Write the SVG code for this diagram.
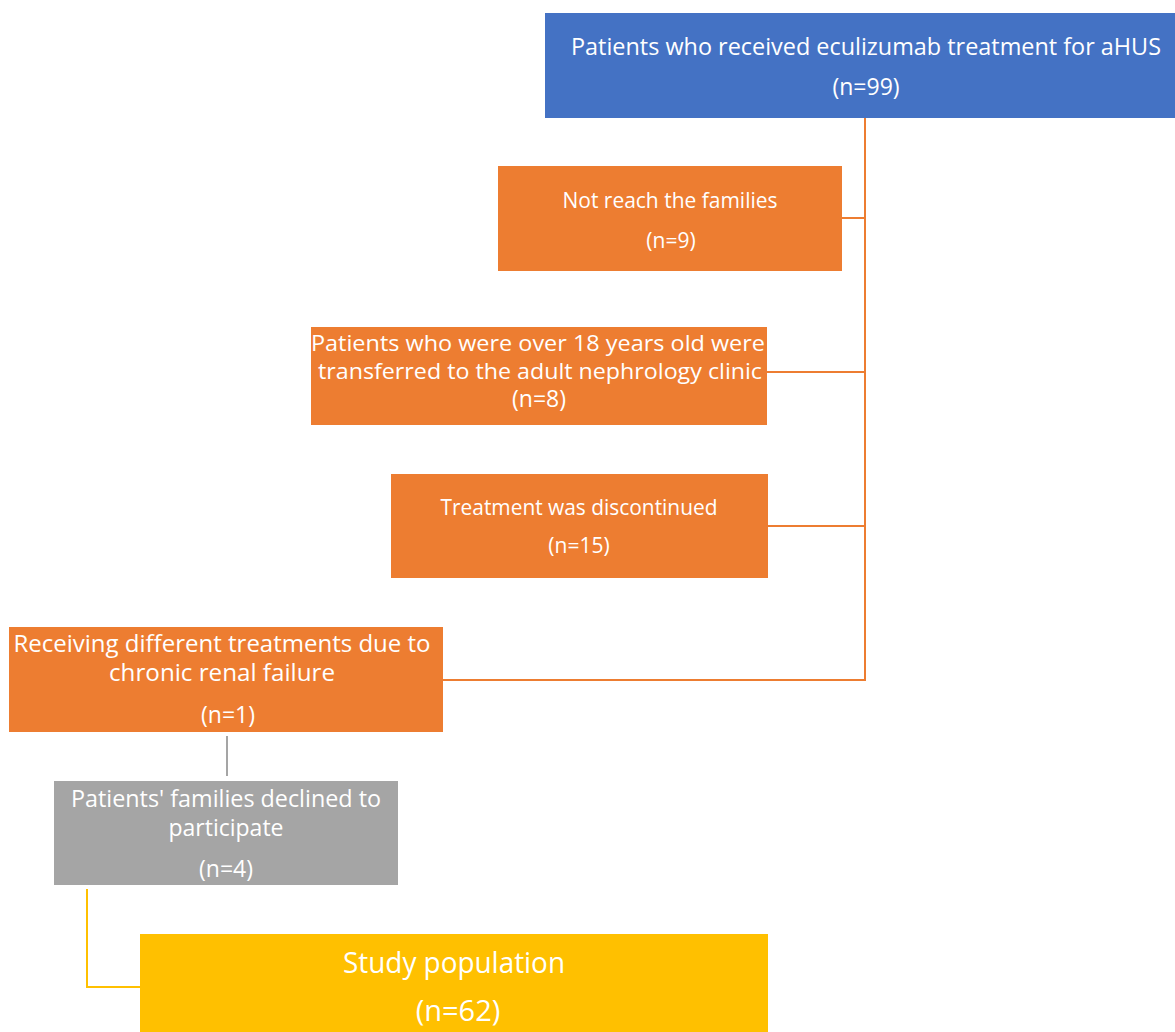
<svg xmlns="http://www.w3.org/2000/svg" width="1175" height="1032" viewBox="0 0 1175 1032">
<style>
text{font-family:"Open Sans","Liberation Sans",sans-serif;fill:#fff;text-anchor:middle}
.o{fill:#ED7D31}
.s{font-size:21px}
.m{font-size:23px}
.t{font-size:21px}
.l{font-size:29px}
.c{fill:none;stroke-width:2}
</style>
<rect width="1175" height="1032" fill="#fff"/>
<g id="connectors">
<path class="c" stroke="#ED7D31" d="M865 118V680H443M842 218H865M767 372H865M768 526H865"/>
<path class="c" stroke="#A5A5A5" d="M227 736V776"/>
<path class="c" stroke="#FFC000" d="M87 889V987H140"/>
</g>
<g id="n0">
<rect x="545" y="13" width="632" height="105" fill="#4472C4"/>
<text class="m" x="866" y="55" textLength="590" lengthAdjust="spacingAndGlyphs">Patients who received eculizumab treatment for aHUS</text>
<text class="m" x="866" y="95">(n=99)</text>
</g>
<g id="n1">
<rect class="o" x="498" y="166" width="344" height="105"/>
<text class="s" x="670" y="208" textLength="215" lengthAdjust="spacingAndGlyphs">Not reach the families</text>
<text class="s" x="671" y="248">(n=9)</text>
</g>
<g id="n2">
<rect class="o" x="311" y="327" width="456" height="98"/>
<text class="t" x="538" y="351" textLength="454" lengthAdjust="spacingAndGlyphs">Patients who were over 18 years old were</text>
<text class="t" x="540" y="379" textLength="444" lengthAdjust="spacingAndGlyphs">transferred to the adult nephrology clinic</text>
<text class="m" x="539" y="407">(n=8)</text>
</g>
<g id="n3">
<rect class="o" x="391" y="474" width="377" height="104"/>
<text class="s" x="579" y="515" textLength="277" lengthAdjust="spacingAndGlyphs">Treatment was discontinued</text>
<text class="s" x="579" y="553">(n=15)</text>
</g>
<g id="n4">
<rect class="o" x="9" y="627" width="434" height="105"/>
<text class="m" x="222" y="652" textLength="417" lengthAdjust="spacingAndGlyphs">Receiving different treatments due to</text>
<text class="m" x="222" y="681" textLength="226" lengthAdjust="spacingAndGlyphs">chronic renal failure</text>
<text class="m" x="228" y="723">(n=1)</text>
</g>
<g id="n5">
<rect x="54" y="781" width="344" height="104" fill="#A5A5A5"/>
<text class="m" x="226" y="807" textLength="310" lengthAdjust="spacingAndGlyphs">Patients' families declined to</text>
<text class="m" x="226" y="836" textLength="115" lengthAdjust="spacingAndGlyphs">participate</text>
<text class="m" x="226" y="877">(n=4)</text>
</g>
<g id="n6">
<rect x="140" y="934" width="628" height="100" fill="#FFC000"/>
<text class="l" x="454" y="973" textLength="222" lengthAdjust="spacingAndGlyphs">Study population</text>
<text class="l" x="458" y="1021">(n=62)</text>
</g>
</svg>
